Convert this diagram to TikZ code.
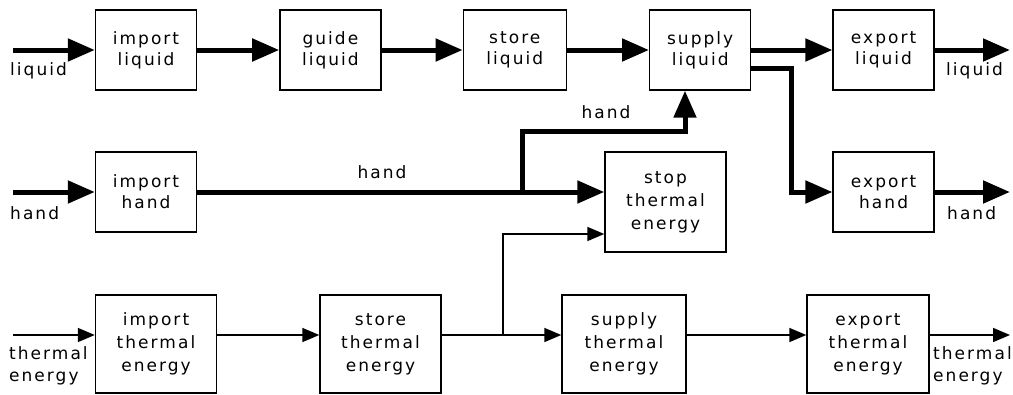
\documentclass[tikz,border=0pt]{standalone}
\usepackage{fontspec}
\setmainfont{DejaVu Sans}[LetterSpace=12]
\usetikzlibrary{arrows.meta}
\usetikzlibrary{positioning}
\tikzset{
func/.style = {draw, line width=1.4pt, align=center, inner sep=0pt,
               minimum width=101pt, minimum height=80pt,
               font=\fontsize{17}{21}\selectfont},
wide/.style = {func, minimum width=121pt, minimum height=98pt,
               font=\fontsize{17}{23}\selectfont},
flow/.style = {line width=5pt, -{Triangle[length=27pt,width=22pt]}},
sig/.style  = {line width=1.6pt, -{Triangle[length=17pt,width=14pt]}},
lbl/.style  = {inner sep=0pt, align=left, font=\fontsize{17}{22}\selectfont}
}

\begin{document}
\begin{tikzpicture}[x=1pt,y=1pt]
        \useasboundingbox (0,0) rectangle (1013,-394);

        % liquid
        \node[func] (il) at (146,-50) {import\\liquid};
        \node[func, right=82pt of il] (gl) {guide\\liquid};
        \node[func, right=81pt of gl, minimum width=103pt] (sl) {store\\liquid};
        \node[func, right=82pt of sl] (pl) {supply\\liquid};
        \node[func, right=81pt of pl] (xl) {export\\liquid};

        % hand
        \node[func] (ih) at (146,-192) {import\\hand};
        \node[func] (xh) at (xl |- ih) {export\\hand};
        \node[wide, minimum height=100pt] (st) at (665.5,-202) {stop\\thermal\\energy};

        % thermal energy
        \node[wide] (it) at (156,-344) {import\\thermal\\energy};
        \node[wide] (tt) at (380.5,-344) {store\\thermal\\energy};
        \node[wide, minimum width=124pt] (ut) at (624,-344) {supply\\thermal\\energy};
        \node[wide, minimum width=122pt] (xt) at (868,-344) {export\\thermal\\energy};

        \coordinate (inL) at (13,-50);
        \coordinate (outL) at (1010,-50);
        \coordinate (inH) at (13,-192);
        \coordinate (outH) at (1010,-192);
        \coordinate (inT) at (13,-335);
        \coordinate (outT) at (1010,-335);
        \coordinate (hsplit) at (522,-192);
        \coordinate (hbend) at (685,-131);
        \coordinate (tsplit) at (503,-335);

        \node[lbl, anchor=north west] (lL) at (10,-62) {liquid};
        \node[lbl, anchor=north west] (rL) at (946,-62) {liquid};
        \node[lbl, anchor=north west] (lH) at (10,-206) {hand};
        \node[lbl, anchor=north west] (rH) at (947,-206) {hand};
        \node[lbl, anchor=north west] (lT) at (9,-346) {thermal\\energy};
        \node[lbl, anchor=north west] (rT) at (933,-346) {thermal\\energy};
        \node[lbl, anchor=base] (hA) at (382,-178) {hand};
        \node[lbl, anchor=base] (hB) at (606,-118) {hand};

        \path
        (inL) edge[flow] (il)
        (il) edge[flow] (gl)
        (gl) edge[flow] (sl)
        (sl) edge[flow] (pl)
        (pl) edge[flow] (xl)
        (xl) edge[flow] (outL)
        (inH) edge[flow] (ih)
        (xh) edge[flow] (outH);

        \draw[flow] (ih) -- (ih -| st.west);
        \draw[flow] (hsplit) |- (hbend) -- (hbend |- pl.south);
        \draw[flow] ([yshift=-18pt]pl.east) -| ([xshift=-41pt]xh.west) -- (xh.west);

        \draw[sig] (inT) -- ([yshift=9pt]it.west);
        \draw[sig] ([yshift=9pt]it.east) -- ([yshift=9pt]tt.west);
        \draw[sig] ([yshift=9pt]tt.east) -- ([yshift=9pt]ut.west);
        \draw[sig] ([yshift=9pt]ut.east) -- ([yshift=9pt]xt.west);
        \draw[sig] ([yshift=9pt]xt.east) -- (outT);
        \draw[sig] (tsplit) |- ([yshift=-32pt]st.west);
\end{tikzpicture}
\end{document}
